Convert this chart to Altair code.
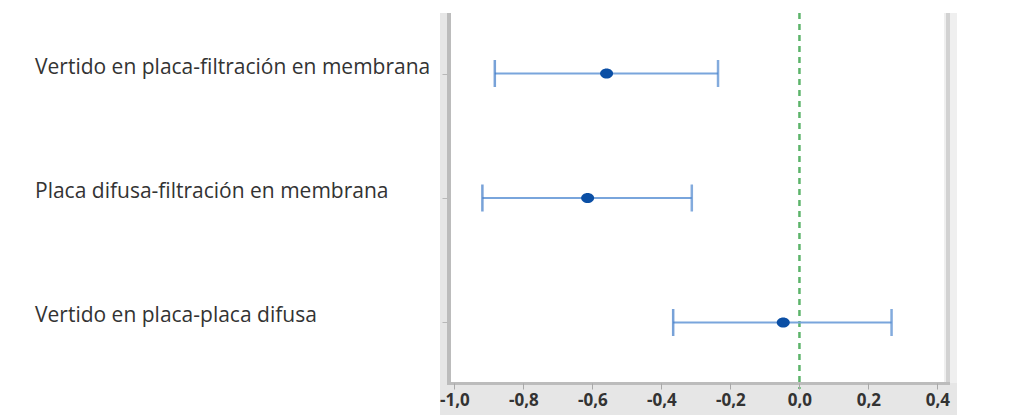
import altair as alt
import pandas as pd

# Pairwise comparisons of counting methods: estimate with confidence interval
comparisons = [
    "Vertido en placa-filtración en membrana",
    "Placa difusa-filtración en membrana",
    "Vertido en placa-placa difusa",
]
lower = [-0.883, -0.919, -0.366]
estimate = [-0.559, -0.614, -0.047]
upper = [-0.236, -0.312, 0.267]
x_ticks = [-1.0, -0.8, -0.6, -0.4, -0.2, 0.0, 0.2, 0.4]
reference_value = [0.0]

df = pd.DataFrame({
    "comparacion": comparisons,
    "inferior": lower,
    "estimacion": estimate,
    "superior": upper,
})
ref = pd.DataFrame({"ref": reference_value})
one = pd.DataFrame({"k": [0]})

W, H = 493, 370
FONT = "Open Sans"

x_scale = alt.Scale(domain=[-1.010, 0.419], nice=False, zero=False)
y_enc = alt.Y(
    "comparacion:N",
    scale=alt.Scale(type="point", domain=comparisons, padding=0.486),
    axis=alt.Axis(labels=False, ticks=True, tickSize=5, tickColor="#b8b8b8",
                  tickWidth=1, domain=False, grid=False, title=None,
                  offset=4, zindex=2),
)
label_expr = ("(datum.value < -1e-9 ? '-' : '') + "
              "replace(format(abs(datum.value), '.1f'), '.', ',')")
x_axis = alt.Axis(values=x_ticks, labelExpr=label_expr, tickSize=6,
                  tickColor="#a8a8a8", tickWidth=1, domain=False, grid=False,
                  labelFont=FONT, labelFontSize=17, labelFontWeight="bold",
                  labelColor="#333333", labelPadding=3, title=None, zindex=2)

# gray frame around the plotting area
left_band = alt.Chart(one).mark_rect(color="#e6e6e6").encode(
    x=alt.value(-11), x2=alt.value(0), y=alt.value(0), y2=alt.value(402))
left_edge = alt.Chart(one).mark_rect(color="#bcbcbc").encode(
    x=alt.value(-4), x2=alt.value(0), y=alt.value(0), y2=alt.value(372))
right_band = alt.Chart(one).mark_rect(color="#efefef").encode(
    x=alt.value(493), x2=alt.value(506), y=alt.value(0), y2=alt.value(402))
right_edge = alt.Chart(one).mark_rect(color="#d2d2d2").encode(
    x=alt.value(495), x2=alt.value(499), y=alt.value(0), y2=alt.value(372))
bottom_band = alt.Chart(one).mark_rect(color="#e6e6e6").encode(
    x=alt.value(-11), x2=alt.value(506), y=alt.value(370), y2=alt.value(402))
bottom_edge = alt.Chart(one).mark_rect(color="#bcbcbc").encode(
    x=alt.value(-4), x2=alt.value(499), y=alt.value(369), y2=alt.value(372))

zero_line = alt.Chart(ref).mark_rule(
    color="#5cb46a", strokeWidth=2.5, strokeDash=[6, 5]
).encode(
    x=alt.X("ref:Q", scale=x_scale, axis=x_axis),
    y=alt.value(0), y2=alt.value(376),
)

base = alt.Chart(df)
interval = base.mark_rule(color="#79a5dc", strokeWidth=2).encode(
    x=alt.X("inferior:Q", scale=x_scale, axis=x_axis),
    x2="superior:Q",
    y=y_enc,
)
cap_lo = base.mark_tick(color="#3f7bc8", thickness=2.5, size=27).encode(
    x=alt.X("inferior:Q", scale=x_scale), y=y_enc)
cap_hi = base.mark_tick(color="#4f88cf", thickness=2.5, size=27).encode(
    x=alt.X("superior:Q", scale=x_scale), y=y_enc)
ellipse = "M -1 0 A 1 0.78 0 1 0 1 0 A 1 0.78 0 1 0 -1 0 Z"
point = base.mark_point(filled=True, shape=ellipse, size=169,
                        color="#0b4fa5", opacity=1).encode(
    x=alt.X("estimacion:Q", scale=x_scale), y=y_enc)
labels = base.mark_text(align="left", baseline="alphabetic", font=FONT,
                        fontSize=21, color="#333333").encode(
    x=alt.value(-416), y=y_enc, text="comparacion:N")

chart = alt.layer(
    left_band, right_band, bottom_band, left_edge, right_edge, bottom_edge,
    zero_line, interval, cap_lo, cap_hi, point, labels,
).properties(
    width=W, height=H,
    padding={"left": 451, "top": 13, "right": 76, "bottom": 32},
    autosize=alt.AutoSizeParams(type="none"),
    background="white",
).configure_view(stroke=None)

chart.save("out.html", embed_options={"renderer": "svg", "actions": False})
